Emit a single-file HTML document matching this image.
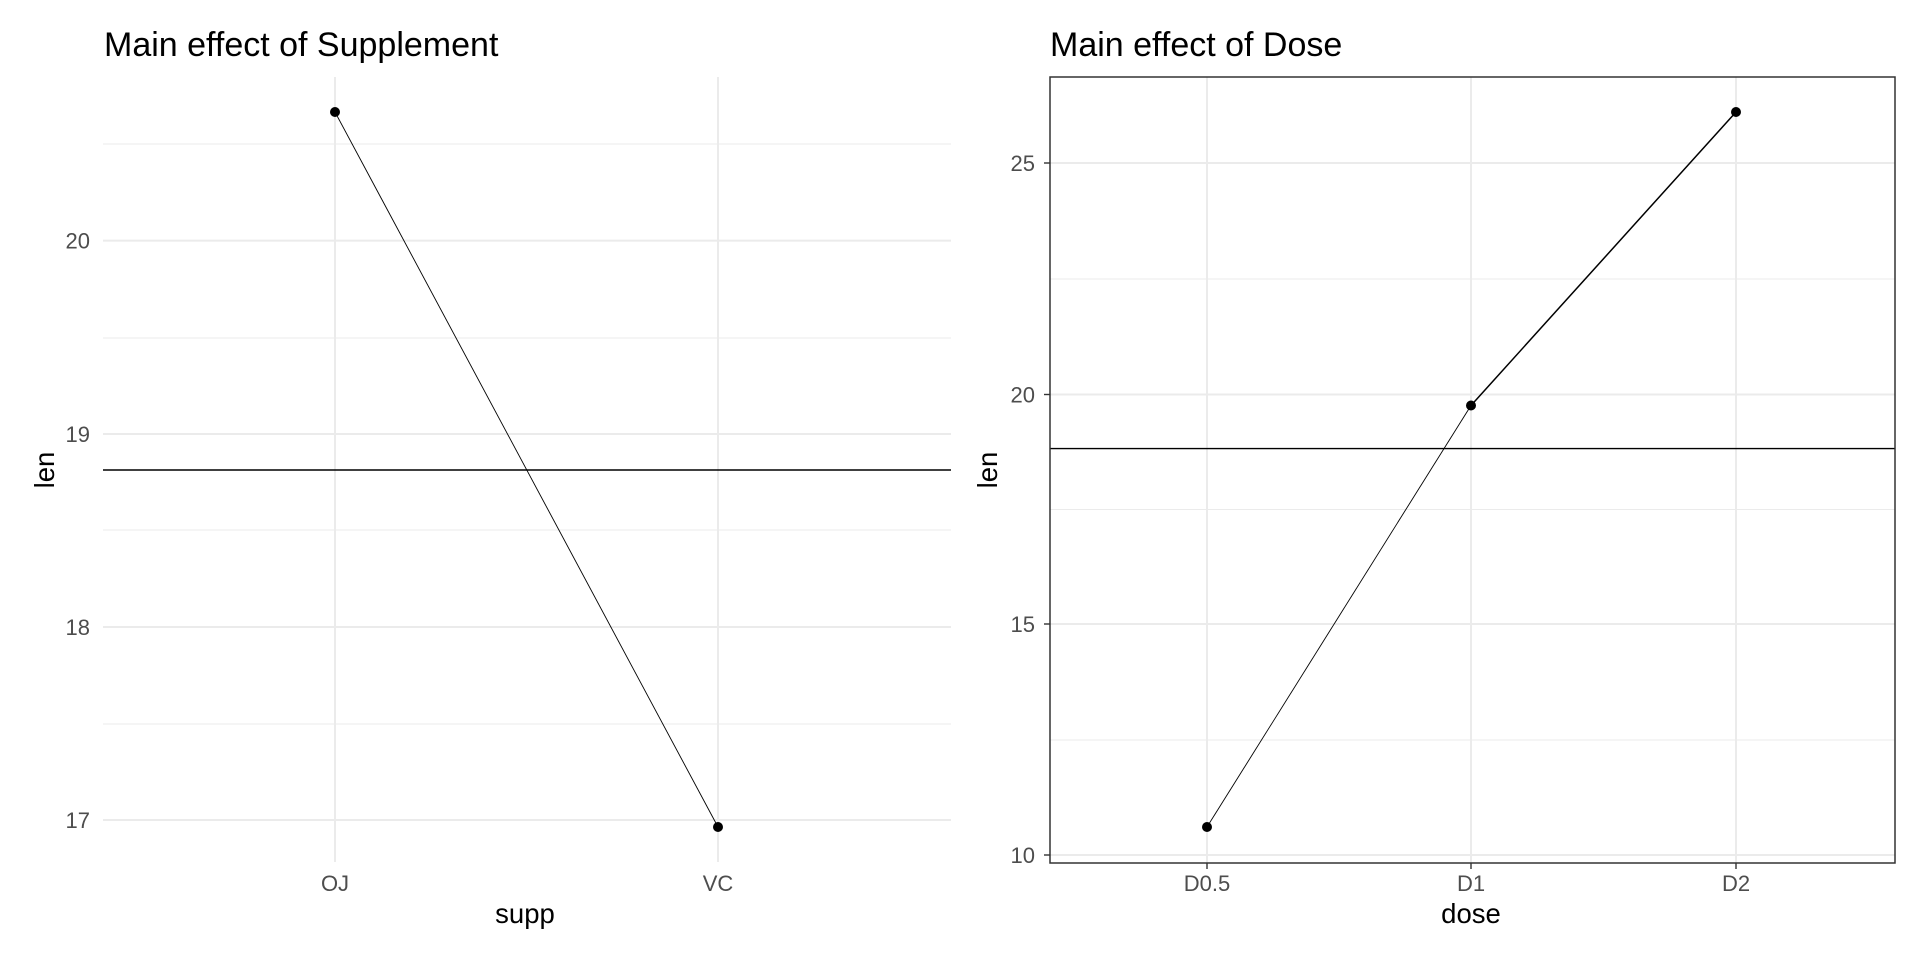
<!DOCTYPE html>
<html><head><meta charset="utf-8"><style>body{margin:0;background:#fff}svg{display:block}</style></head><body>
<svg width="1920" height="960" viewBox="0 0 1920 960" xmlns="http://www.w3.org/2000/svg" font-family="Liberation Sans, Arial, sans-serif">
<rect width="1920" height="960" fill="#fff"/>
<!-- Left panel -->
<g stroke="#ebebeb" stroke-width="1">
<line x1="103" x2="951" y1="144" y2="144"/><line x1="103" x2="951" y1="338" y2="338"/><line x1="103" x2="951" y1="530" y2="530"/><line x1="103" x2="951" y1="724" y2="724"/>
</g>
<g stroke="#ebebeb" stroke-width="2">
<line x1="103" x2="951" y1="240.6" y2="240.6"/><line x1="103" x2="951" y1="434" y2="434"/><line x1="103" x2="951" y1="627" y2="627"/><line x1="103" x2="951" y1="820" y2="820"/>
<line x1="335" x2="335" y1="77" y2="862"/><line x1="718" x2="718" y1="77" y2="862"/>
</g>
<line x1="103" x2="951" y1="470" y2="470" stroke="#000" stroke-width="1.4"/>
<line x1="335" y1="112" x2="718" y2="827" stroke="#000" stroke-width="0.9"/>
<circle cx="335" cy="112" r="5" fill="#000"/><circle cx="718" cy="827" r="5" fill="#000"/>
<g fill="#4d4d4d" font-size="22" text-anchor="end">
<text x="90" y="248.5">20</text><text x="90" y="442">19</text><text x="90" y="635">18</text><text x="90" y="828">17</text>
</g>
<g fill="#4d4d4d" font-size="22" text-anchor="middle">
<text x="335" y="891">OJ</text><text x="718" y="891">VC</text>
</g>
<text x="525" y="923" font-size="27.5" text-anchor="middle">supp</text>
<text transform="translate(54,470) rotate(-90)" font-size="27.5" text-anchor="middle">len</text>
<text x="104" y="56" font-size="34">Main effect of Supplement</text>
<!-- Right panel -->
<g stroke="#ebebeb" stroke-width="1">
<line x1="1050" x2="1895" y1="279" y2="279"/><line x1="1050" x2="1895" y1="509.5" y2="509.5"/><line x1="1050" x2="1895" y1="740" y2="740"/>
</g>
<g stroke="#ebebeb" stroke-width="2">
<line x1="1050" x2="1895" y1="163" y2="163"/><line x1="1050" x2="1895" y1="394.5" y2="394.5"/><line x1="1050" x2="1895" y1="624" y2="624"/><line x1="1050" x2="1895" y1="855" y2="855"/>
<line x1="1207" x2="1207" y1="77" y2="863"/><line x1="1471" x2="1471" y1="77" y2="863"/><line x1="1736" x2="1736" y1="77" y2="863"/>
</g>
<line x1="1050" x2="1895" y1="448.6" y2="448.6" stroke="#000" stroke-width="1.4"/>
<polyline points="1207,827 1471,405.5" fill="none" stroke="#000" stroke-width="0.9"/>
<polyline points="1471,405.5 1736,112" fill="none" stroke="#000" stroke-width="1.5"/>
<circle cx="1207" cy="827" r="5" fill="#000"/><circle cx="1471" cy="405.5" r="5" fill="#000"/><circle cx="1736" cy="112" r="5" fill="#000"/>
<rect x="1050" y="77" width="845" height="786" fill="none" stroke="#333" stroke-width="1.5"/>
<g stroke="#333" stroke-width="1.4">
<line x1="1044" x2="1050" y1="163" y2="163"/><line x1="1044" x2="1050" y1="394.5" y2="394.5"/><line x1="1044" x2="1050" y1="624" y2="624"/><line x1="1044" x2="1050" y1="855" y2="855"/>
<line x1="1207" x2="1207" y1="863" y2="869"/><line x1="1471" x2="1471" y1="863" y2="869"/><line x1="1736" x2="1736" y1="863" y2="869"/>
</g>
<g fill="#4d4d4d" font-size="22" text-anchor="end">
<text x="1035" y="171">25</text><text x="1035" y="402.5">20</text><text x="1035" y="632">15</text><text x="1035" y="863">10</text>
</g>
<g fill="#4d4d4d" font-size="22" text-anchor="middle">
<text x="1207" y="891">D0.5</text><text x="1471" y="891">D1</text><text x="1736" y="891">D2</text>
</g>
<text x="1471" y="923" font-size="27.5" text-anchor="middle">dose</text>
<text transform="translate(997,470) rotate(-90)" font-size="27.5" text-anchor="middle">len</text>
<text x="1050" y="56" font-size="34">Main effect of Dose</text>
</svg>
</body></html>
